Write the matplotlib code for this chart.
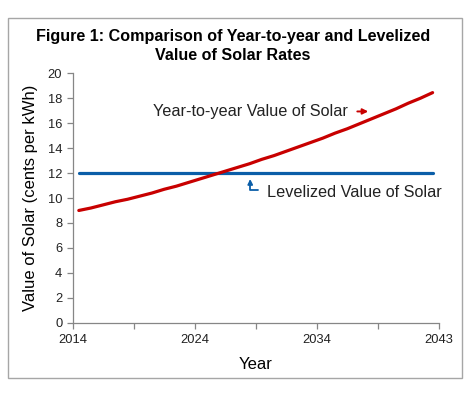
#!/usr/bin/env python3
"""Year-to-year vs levelized value of solar rates."""

import matplotlib

matplotlib.use("Agg")
import matplotlib.pyplot as plt
from matplotlib.patches import Rectangle

plt.rcParams["font.family"] = ["Liberation Sans", "DejaVu Sans"]

YEARS = list(range(2014, 2044))
YEAR_TO_YEAR = [
    9.0, 9.2, 9.45, 9.7, 9.9, 10.15, 10.4, 10.7, 10.95, 11.25,
    11.55, 11.85, 12.15, 12.45, 12.75, 13.1, 13.4, 13.75, 14.1, 14.45,
    14.8, 15.2, 15.55, 15.95, 16.35, 16.75, 17.15, 17.6, 18.0, 18.45,
]
LEVELIZED = [12.0] * len(YEARS)
X_TICK_LABELS = ["2014", "", "2024", "", "2034", "", "2043"]

RED = "#C80000"
BLUE = "#0B5EA8"
AXIS_GRAY = "#868686"

fig = plt.figure(figsize=(4.7, 3.99), dpi=100)
fig.patches.append(
    Rectangle((8 / 470, 1 - 378 / 399), 454 / 470, 360 / 399, transform=fig.transFigure,
              fill=False, edgecolor="#A6A6A6", linewidth=1.0)
)

ax = fig.add_axes([0.1547, 0.1912, 0.7787, 0.6251])

# category axis: each year sits in the middle of its slot
xs = [i + 0.5 for i in range(len(YEARS))]
ax.plot(xs, LEVELIZED, color=BLUE, linewidth=2.3, solid_capstyle="round")
ax.plot(xs, YEAR_TO_YEAR, color=RED, linewidth=2.3, solid_capstyle="round")

ax.set_xlim(0, len(YEARS))
ax.set_ylim(0, 20)
ax.set_xticks(range(0, len(YEARS) + 1, 5), X_TICK_LABELS)
ax.set_yticks(range(0, 21, 2))

for side in ("top", "right"):
    ax.spines[side].set_visible(False)
for side in ("left", "bottom"):
    ax.spines[side].set_color(AXIS_GRAY)
    ax.spines[side].set_linewidth(0.9)
ax.tick_params(axis="both", colors=AXIS_GRAY, labelcolor="#222222", labelsize=9.3, length=4, width=0.9)
ax.tick_params(axis="x", pad=4)

ax.set_xlabel("Year", fontsize=12, labelpad=8)
ax.set_ylabel("Value of Solar (cents per kWh)", fontsize=12, labelpad=7)

fig.text(0.495, 1 - 46 / 399, "Figure 1: Comparison of Year-to-year and Levelized\nValue of Solar Rates",
         ha="center", va="center", fontsize=11.6, fontweight="bold", linespacing=1.4)

ax.text(0.219, 0.845, "Year-to-year Value of Solar", transform=ax.transAxes,
        fontsize=11.7, va="center", ha="left", color="#222222")
ax.annotate("", xy=(0.815, 0.847), xytext=(0.77, 0.847), xycoords="axes fraction",
            arrowprops=dict(arrowstyle="-|>", color=RED, lw=1.4, mutation_scale=8))

ax.text(0.532, 0.524, "Levelized Value of Solar", transform=ax.transAxes,
        fontsize=11.7, va="center", ha="left", color="#222222")
ax.annotate("", xy=(0.485, 0.576), xytext=(0.507, 0.534), xycoords="axes fraction",
            arrowprops=dict(arrowstyle="-|>", color=BLUE, lw=1.3, mutation_scale=7,
                            connectionstyle="angle,angleA=0,angleB=90,rad=0",
                            shrinkA=0, shrinkB=0))

fig.savefig("out.png", dpi=100)
